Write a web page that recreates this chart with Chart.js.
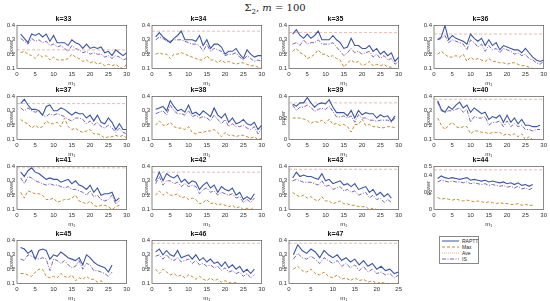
<!DOCTYPE html>
<html>
<head>
<meta charset="utf-8">
<script src="https://cdn.jsdelivr.net/npm/chart.js@4"></script>
<style>
body { margin: 0; background: #fff; width: 550px; height: 301px; overflow: hidden; position: relative; font-family: "Liberation Sans", Arial, sans-serif; }
canvas { position: absolute; }
#figTitle { position: absolute; top: 2px; left: 0; width: 550px; text-align: center; font: 10px "DejaVu Serif", serif; color: #222; }
#figTitle sub { font-size: 7px; }
#legend { position: absolute; left: 439px; top: 236px; width: 38px; height: 26px; border: 1px solid #888; background: #fff; font-size: 5px; color: #222; }
#legend div { position: absolute; left: 2px; height: 6px; line-height: 6px; }
#legend svg { position: absolute; left: 0; top: 0; }
#legend span { position: absolute; left: 20px; top: 0; white-space: nowrap; }
</style>
</head>
<body>
<div id="figTitle">&Sigma;<sub>2</sub>, <i>m</i> = 100</div>
<div id="legend"></div>
<script>
// panel ids
const kValues = [33, 34, 35, 36, 37, 38, 39, 40, 41, 42, 43, 44, 45, 46, 47];

// RAPTT (solid blue)
const raptt33 = [0.34,0.31,0.28,0.34,0.33,0.345,0.32,0.34,0.29,0.33,0.28,0.28,0.28,0.26,0.30,0.28,0.27,0.24,0.27,0.24,0.25,0.24,0.25,0.21,0.22,0.19,0.23,0.21,0.19,0.21];
const raptt34 = [0.32,0.35,0.32,0.30,0.28,0.31,0.33,0.36,0.30,0.30,0.30,0.29,0.33,0.26,0.30,0.24,0.27,0.27,0.25,0.20,0.22,0.22,0.24,0.20,0.17,0.23,0.20,0.18,0.19,0.19];
const raptt35 = [0.34,0.37,0.33,0.31,0.34,0.31,0.33,0.36,0.30,0.30,0.30,0.33,0.30,0.28,0.24,0.25,0.31,0.26,0.26,0.24,0.24,0.26,0.22,0.24,0.20,0.22,0.19,0.21,0.15,0.18];
const raptt36 = [0.30,0.32,0.40,0.30,0.33,0.31,0.30,0.29,0.27,0.34,0.31,0.29,0.31,0.26,0.30,0.26,0.28,0.23,0.26,0.25,0.24,0.23,0.23,0.21,0.24,0.21,0.18,0.16,0.15,0.16];
const raptt37 = [0.35,0.38,0.34,0.31,0.31,0.30,0.27,0.33,0.34,0.30,0.30,0.32,0.31,0.29,0.27,0.29,0.28,0.28,0.25,0.27,0.23,0.27,0.22,0.21,0.25,0.22,0.17,0.21,0.17,0.17];
const raptt38 = [0.31,0.32,0.33,0.30,0.37,0.33,0.30,0.31,0.29,0.34,0.28,0.29,0.27,0.30,0.28,0.26,0.32,0.27,0.25,0.28,0.22,0.25,0.21,0.22,0.24,0.21,0.20,0.22,0.17,0.20];
const raptt39 = [0.33,0.31,0.34,0.34,0.39,0.34,0.30,0.33,0.34,0.33,0.37,0.30,0.25,0.25,0.25,0.22,0.27,0.20,0.27,0.23,0.25,0.24,0.24,0.20,0.23,0.21,0.22,0.17,0.22];
const raptt40 = [0.37,0.31,0.29,0.33,0.31,0.34,0.36,0.32,0.34,0.29,0.32,0.30,0.28,0.29,0.24,0.26,0.25,0.27,0.22,0.27,0.22,0.25,0.21,0.24,0.20,0.20,0.19,0.19,0.20];
const raptt41 = [0.36,0.33,0.37,0.39,0.36,0.35,0.33,0.31,0.32,0.31,0.31,0.29,0.30,0.31,0.28,0.30,0.27,0.26,0.24,0.27,0.22,0.25,0.20,0.21,0.21,0.22,0.16,0.18];
const raptt42 = [0.30,0.36,0.30,0.35,0.33,0.32,0.34,0.29,0.31,0.28,0.30,0.29,0.24,0.27,0.29,0.25,0.27,0.22,0.26,0.24,0.23,0.25,0.20,0.22,0.17,0.19,0.17,0.21];
const raptt43 = [0.32,0.36,0.33,0.34,0.33,0.33,0.32,0.31,0.35,0.30,0.31,0.28,0.29,0.30,0.27,0.28,0.26,0.28,0.24,0.25,0.26,0.22,0.24,0.20,0.22,0.19,0.21,0.18];
const raptt44 = [0.36,0.39,0.37,0.36,0.37,0.36,0.35,0.36,0.37,0.34,0.35,0.34,0.33,0.34,0.32,0.33,0.32,0.31,0.32,0.30,0.31,0.29,0.31,0.28,0.29,0.27,0.29];
const raptt45 = [0.35,0.34,0.31,0.33,0.27,0.33,0.34,0.33,0.27,0.30,0.29,0.32,0.30,0.28,0.27,0.26,0.28,0.23,0.30,0.28,0.25,0.23,0.22,0.21,0.18,0.23];
const raptt46 = [0.32,0.34,0.30,0.33,0.30,0.29,0.33,0.28,0.29,0.30,0.27,0.30,0.26,0.28,0.25,0.27,0.24,0.25,0.22,0.25,0.21,0.23,0.20,0.22,0.18,0.20,0.17,0.20];
const raptt47 = [0.30,0.37,0.33,0.31,0.34,0.32,0.28,0.33,0.30,0.28,0.30,0.26,0.28,0.25,0.27,0.23,0.26,0.22,0.24,0.20,0.22,0.19,0.20,0.17,0.18];

// Max (dashed, lower curve)
const max33 = [0.21,0.22,0.20,0.19,0.17,0.20,0.18,0.19,0.16,0.18,0.16,0.16,0.16,0.17,0.20,0.18,0.17,0.15,0.16,0.14,0.15,0.13,0.14,0.12,0.13,0.12,0.13,0.11,0.10,0.13];
const max34 = [0.20,0.21,0.20,0.20,0.17,0.20,0.20,0.21,0.20,0.19,0.18,0.17,0.16,0.16,0.19,0.16,0.16,0.14,0.16,0.14,0.15,0.14,0.13,0.14,0.14,0.13,0.12,0.12,0.11,0.10];
const max35 = [0.22,0.24,0.21,0.20,0.17,0.18,0.20,0.23,0.20,0.20,0.18,0.19,0.17,0.16,0.11,0.14,0.16,0.14,0.15,0.12,0.13,0.15,0.12,0.13,0.12,0.13,0.11,0.11,0.10,0.10];
const max36 = [0.20,0.22,0.20,0.18,0.18,0.19,0.18,0.20,0.15,0.18,0.16,0.17,0.16,0.15,0.17,0.15,0.15,0.14,0.14,0.13,0.14,0.14,0.13,0.12,0.12,0.11,0.10,0.10,0.10,0.10];
const max37 = [0.24,0.22,0.21,0.18,0.20,0.18,0.19,0.23,0.21,0.21,0.22,0.19,0.25,0.19,0.17,0.18,0.16,0.15,0.16,0.17,0.14,0.14,0.13,0.11,0.12,0.12,0.13,0.12,0.13,0.11];
const max38 = [0.20,0.23,0.20,0.20,0.22,0.19,0.18,0.18,0.17,0.19,0.15,0.14,0.15,0.15,0.16,0.16,0.17,0.15,0.12,0.15,0.13,0.13,0.12,0.13,0.13,0.12,0.11,0.12,0.10,0.11];
const max39 = [0.20,0.20,0.20,0.19,0.18,0.15,0.17,0.16,0.18,0.15,0.19,0.14,0.15,0.13,0.14,0.12,0.07,0.14,0.14,0.19,0.13,0.14,0.12,0.12,0.11,0.11,0.12,0.12,0.11];
const max40 = [0.25,0.20,0.17,0.20,0.22,0.19,0.18,0.19,0.19,0.14,0.16,0.16,0.15,0.15,0.14,0.15,0.15,0.15,0.13,0.14,0.13,0.14,0.12,0.14,0.10,0.12,0.10,0.08,0.10];
const max41 = [0.22,0.18,0.23,0.22,0.21,0.21,0.20,0.17,0.17,0.18,0.15,0.16,0.17,0.17,0.18,0.20,0.16,0.15,0.14,0.16,0.13,0.12,0.13,0.13,0.12,0.10,0.12,0.13];
const max42 = [0.20,0.23,0.20,0.22,0.20,0.20,0.21,0.18,0.19,0.17,0.18,0.17,0.14,0.15,0.17,0.14,0.15,0.13,0.14,0.13,0.12,0.13,0.11,0.12,0.10,0.11,0.10,0.12];
const max43 = [0.22,0.20,0.19,0.20,0.18,0.19,0.17,0.16,0.19,0.16,0.16,0.14,0.15,0.16,0.14,0.14,0.13,0.13,0.12,0.12,0.12,0.10,0.11,0.10,0.10,0.09,0.10,0.09];
const max44 = [0.14,0.12,0.13,0.12,0.11,0.12,0.11,0.10,0.11,0.10,0.09,0.10,0.09,0.08,0.09,0.08,0.07,0.08,0.07,0.07,0.06,0.06,0.07,0.05,0.06,0.05,0.05];
const max45 = [0.17,0.17,0.16,0.15,0.18,0.20,0.20,0.15,0.14,0.15,0.14,0.17,0.15,0.14,0.16,0.12,0.14,0.13,0.15,0.13,0.13,0.11,0.12,0.10,0.10,0.10];
const max46 = [0.20,0.17,0.20,0.18,0.16,0.17,0.15,0.16,0.14,0.16,0.15,0.13,0.15,0.13,0.12,0.14,0.12,0.13,0.11,0.12,0.11,0.10,0.11,0.09,0.10,0.09,0.09,0.10];
const max47 = [0.20,0.22,0.19,0.18,0.20,0.17,0.16,0.18,0.15,0.14,0.16,0.13,0.14,0.12,0.14,0.12,0.13,0.11,0.12,0.10,0.11,0.10,0.10,0.09,0.10];

// Ave (flat dashed reference level), one value per panel
const aveLevels = [0.23, 0.36, 0.35, 0.34, 0.35, 0.40, 0.34, 0.38, 0.39, 0.36, 0.38, 0.46, 0.41, 0.38, 0.38];

// IS (dash-dot purple)
const is33 = [0.31,0.29,0.27,0.31,0.29,0.30,0.28,0.29,0.26,0.27,0.25,0.26,0.24,0.22,0.26,0.24,0.23,0.21,0.22,0.20,0.21,0.20,0.20,0.18,0.19,0.17,0.19,0.18,0.16,0.17];
const is34 = [0.30,0.32,0.31,0.29,0.29,0.30,0.30,0.30,0.29,0.28,0.27,0.27,0.26,0.22,0.27,0.22,0.24,0.23,0.22,0.19,0.20,0.20,0.21,0.18,0.16,0.19,0.17,0.15,0.16,0.15];
const is35 = [0.27,0.28,0.26,0.30,0.27,0.28,0.28,0.30,0.27,0.27,0.27,0.28,0.25,0.22,0.19,0.21,0.24,0.21,0.22,0.20,0.21,0.22,0.18,0.20,0.17,0.19,0.16,0.17,0.13,0.15];
const is36 = [0.30,0.31,0.33,0.28,0.30,0.29,0.28,0.27,0.23,0.30,0.28,0.25,0.27,0.22,0.26,0.23,0.24,0.21,0.24,0.23,0.22,0.20,0.21,0.19,0.20,0.17,0.16,0.14,0.13,0.15];
const is37 = [0.32,0.30,0.32,0.30,0.29,0.30,0.27,0.26,0.28,0.27,0.28,0.27,0.26,0.24,0.23,0.25,0.25,0.24,0.21,0.23,0.20,0.22,0.19,0.18,0.20,0.18,0.15,0.18,0.15,0.14];
const is38 = [0.28,0.29,0.30,0.27,0.34,0.30,0.28,0.28,0.27,0.30,0.26,0.27,0.25,0.26,0.25,0.23,0.27,0.24,0.21,0.24,0.19,0.21,0.19,0.19,0.20,0.18,0.17,0.19,0.14,0.18];
const is39 = [0.32,0.27,0.30,0.30,0.32,0.30,0.26,0.28,0.29,0.28,0.31,0.26,0.21,0.21,0.22,0.20,0.22,0.16,0.23,0.20,0.20,0.18,0.18,0.17,0.18,0.18,0.18,0.16,0.20];
const is40 = [0.36,0.30,0.29,0.30,0.30,0.31,0.32,0.29,0.31,0.22,0.26,0.25,0.25,0.26,0.20,0.22,0.22,0.23,0.19,0.23,0.19,0.21,0.19,0.20,0.17,0.17,0.16,0.17,0.17];
const is41 = [0.32,0.28,0.33,0.32,0.30,0.29,0.28,0.27,0.28,0.27,0.27,0.26,0.25,0.26,0.24,0.24,0.23,0.22,0.20,0.23,0.19,0.20,0.17,0.16,0.17,0.20,0.14,0.16];
const is42 = [0.28,0.33,0.27,0.30,0.30,0.28,0.29,0.26,0.28,0.26,0.27,0.26,0.21,0.24,0.25,0.22,0.23,0.20,0.22,0.21,0.20,0.21,0.18,0.19,0.15,0.17,0.15,0.18];
const is43 = [0.30,0.31,0.30,0.29,0.29,0.29,0.28,0.27,0.30,0.26,0.27,0.24,0.25,0.26,0.23,0.24,0.22,0.23,0.20,0.21,0.22,0.18,0.20,0.17,0.18,0.15,0.17,0.15];
const is44 = [0.32,0.34,0.33,0.32,0.33,0.32,0.32,0.31,0.32,0.30,0.31,0.30,0.29,0.30,0.28,0.29,0.28,0.27,0.28,0.26,0.27,0.25,0.27,0.24,0.25,0.23,0.25];
const is45 = [0.27,0.26,0.30,0.29,0.28,0.27,0.28,0.27,0.19,0.27,0.26,0.24,0.26,0.23,0.21,0.22,0.26,0.20,0.24,0.23,0.19,0.19,0.18,0.17,0.15,0.18];
const is46 = [0.29,0.30,0.27,0.30,0.27,0.26,0.28,0.25,0.26,0.27,0.24,0.26,0.23,0.24,0.22,0.23,0.21,0.22,0.19,0.21,0.18,0.19,0.17,0.18,0.15,0.17,0.14,0.16];
const is47 = [0.27,0.31,0.28,0.27,0.29,0.27,0.24,0.28,0.26,0.24,0.26,0.22,0.24,0.21,0.23,0.19,0.22,0.18,0.20,0.17,0.18,0.16,0.17,0.14,0.16];

const rapttSeries = [raptt33, raptt34, raptt35, raptt36, raptt37, raptt38, raptt39, raptt40, raptt41, raptt42, raptt43, raptt44, raptt45, raptt46, raptt47];
const maxSeries = [max33, max34, max35, max36, max37, max38, max39, max40, max41, max42, max43, max44, max45, max46, max47];
const isSeries = [is33, is34, is35, is36, is37, is38, is39, is40, is41, is42, is43, is44, is45, is46, is47];

// axis ranges and ticks per panel
const yMins = [0.1,0.1,0.1,0.1,0.1,0.1,0,0.1,0.1,0.1,0.1,0,0.1,0.1,0.1];
const yMaxs = [0.4,0.4,0.4,0.4,0.4,0.4,0.4,0.4,0.4,0.4,0.4,0.5,0.4,0.4,0.4];
const yTicks = [0.1,0.1,0.1,0.1,0.1,0.1,0.2,0.1,0.1,0.1,0.1,0.2,0.1,0.1,0.1];
const xMaxs = [30,30,30,30,30,30,30,30,30,30,30,30,30,30,25];

const colorRaptt = '#3a55a4';
const colorMax = '#c98a2e';
const colorAve = '#eba89a';
const colorIs = '#7c62b6';

const colLeft = [0, 135, 272, 417];
const rowTop = [14, 85, 155, 229];

// frame box round each plot, like a MATLAB axes box
const boxPlugin = {
    id: 'box',
    afterDraw(chart) {
        const a = chart.chartArea;
        const c = chart.ctx;
        c.save();
        c.strokeStyle = '#555';
        c.lineWidth = 0.7;
        c.strokeRect(a.left, a.top, a.right - a.left, a.bottom - a.top);
        c.restore();
    }
};

const tickFont = { family: 'Liberation Sans', size: 6 };

kValues.forEach((k, i) => {
    const canvas = document.createElement('canvas');
    canvas.width = 132;
    canvas.height = 73;
    canvas.style.left = colLeft[i % 4] + 'px';
    canvas.style.top = rowTop[Math.floor(i / 4)] + 'px';
    document.body.appendChild(canvas);

    const toPts = arr => arr.map((v, j) => ({ x: j + 1, y: v }));

    new Chart(canvas.getContext('2d'), {
        type: 'line',
        data: {
            datasets: [{
                label: 'RAPTT',
                data: toPts(rapttSeries[i]),
                borderColor: colorRaptt,
                borderWidth: 1.1
            }, {
                label: 'Max',
                data: toPts(maxSeries[i]),
                borderColor: colorMax,
                borderWidth: 1,
                borderDash: [3, 2]
            }, {
                label: 'Ave',
                data: [{ x: 0, y: aveLevels[i] }, { x: xMaxs[i], y: aveLevels[i] }],
                borderColor: colorAve,
                borderWidth: 0.8,
                borderDash: [3, 2]
            }, {
                label: 'IS',
                data: toPts(isSeries[i]),
                borderColor: colorIs,
                borderWidth: 1,
                borderDash: [4, 1.5, 1, 1.5]
            }]
        },
        options: {
            responsive: false,
            animation: false,
            events: [],
            layout: { padding: { left: 0, right: 5, top: 0, bottom: 0 } },
            elements: { point: { radius: 0 }, line: { tension: 0 } },
            plugins: {
                legend: { display: false },
                tooltip: { enabled: false },
                title: {
                    display: true,
                    text: 'k=' + k,
                    color: '#111',
                    font: { family: 'Liberation Sans', size: 7, weight: 'bold' },
                    padding: { top: 1, bottom: 2 }
                }
            },
            scales: {
                x: {
                    type: 'linear',
                    min: 0,
                    max: xMaxs[i],
                    grid: { display: false, drawTicks: false },
                    border: { display: false },
                    ticks: {
                        stepSize: 5,
                        color: '#333',
                        padding: 2,
                        maxRotation: 0,
                        font: tickFont
                    },
                    title: {
                        display: true,
                        text: 'm\u2081',
                        color: '#333',
                        padding: 0,
                        font: tickFont
                    }
                },
                y: {
                    min: yMins[i],
                    max: yMaxs[i],
                    afterFit(scale) { scale.width = 17; },
                    grid: { display: false, drawTicks: false },
                    border: { display: false },
                    ticks: {
                        stepSize: yTicks[i],
                        color: '#333',
                        padding: 2,
                        font: tickFont,
                        callback: v => (Math.abs(v) < 1e-9 ? '0' : String(Math.round(v * 10) / 10))
                    },
                    title: {
                        display: true,
                        text: 'power',
                        color: '#333',
                        padding: { top: 9, bottom: 0 },
                        font: { family: 'Liberation Sans', size: 5 }
                    }
                }
            }
        },
        plugins: [boxPlugin]
    });
});

// legend box in the empty 16th cell
const legendItems = [
    { label: 'RAPTT', color: colorRaptt, dash: '' },
    { label: 'Max', color: colorMax, dash: '3,2' },
    { label: 'Ave', color: colorAve, dash: '1,1' },
    { label: 'IS', color: colorIs, dash: '4,1.5,1,1.5' }
];
const legend = document.getElementById('legend');
legendItems.forEach((item, j) => {
    const row = document.createElement('div');
    row.style.top = (1 + j * 6) + 'px';
    row.innerHTML = '<svg width="18" height="6"><line x1="0" y1="3" x2="17" y2="3" stroke="' + item.color +
        '" stroke-width="1" stroke-dasharray="' + item.dash + '"/></svg><span>' + item.label + '</span>';
    legend.appendChild(row);
});
</script>
</body>
</html>
